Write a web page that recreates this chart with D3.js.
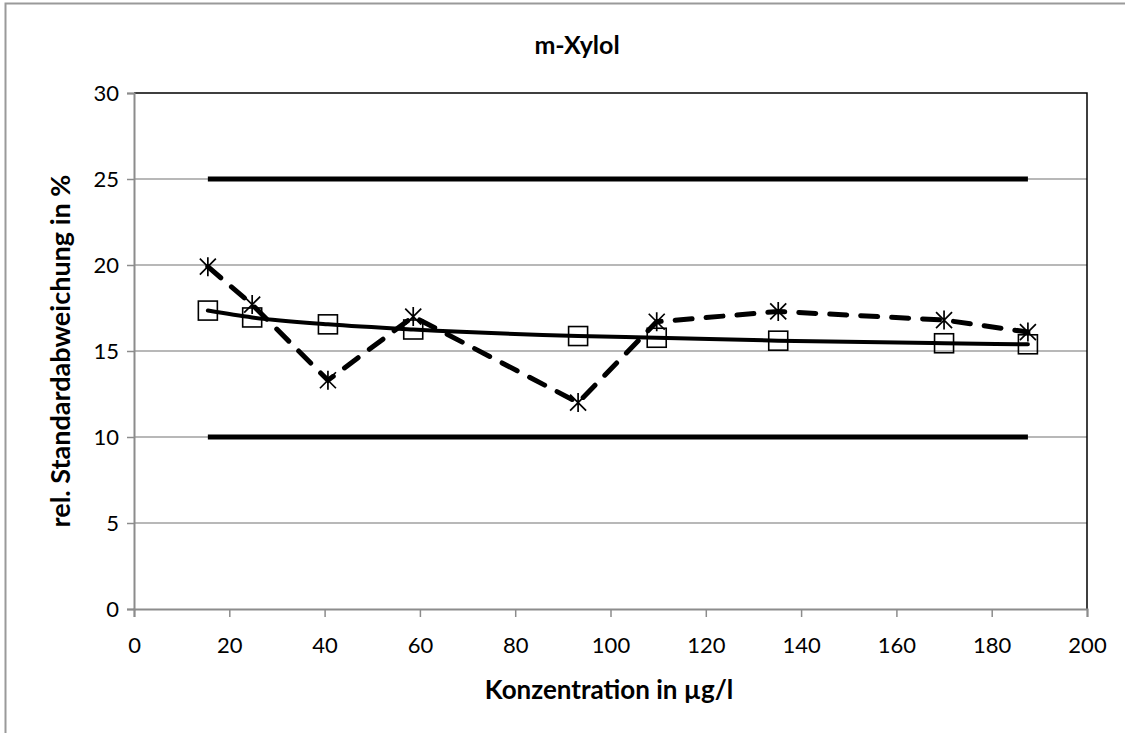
<!DOCTYPE html>
<html>
<head>
<meta charset="utf-8">
<script src="https://cdn.jsdelivr.net/npm/d3@7"></script>
<style>
  html, body { margin: 0; padding: 0; background: #fff; }
  svg { display: block; }
  text { font-family: Lato, "Open Sans", "Liberation Sans", sans-serif; fill: #000; }
</style>
</head>
<body>
<svg id="chart" width="1125" height="733"></svg>
<script>
// Concentration levels (µg/l)
const concentrations = [15.5, 24.8, 40.7, 58.6, 93.2, 109.7, 135.2, 170.0, 187.6];
// Measured relative standard deviation (%)
const measuredRSD = [19.9, 17.7, 13.3, 17.0, 12.0, 16.7, 17.3, 16.8, 16.1];
// Fitted relative standard deviation (%)
const fittedRSD = [17.35, 16.95, 16.55, 16.25, 15.87, 15.77, 15.6, 15.45, 15.39];
// Acceptance limits (%)
const limitValues = [25, 10];
const limitRange = [15.5, 187.6];
const xTicks = [0, 20, 40, 60, 80, 100, 120, 140, 160, 180, 200];
const yTicks = [0, 5, 10, 15, 20, 25, 30];

const svg = d3.select("#chart");
const W = 1125, H = 733;
const plotL = 134, plotR = 1087, plotT = 93, plotB = 609;

const x = d3.scaleLinear().domain([0, 200]).range([plotL, plotR]);
const y = d3.scaleLinear().domain([0, 30]).range([plotB, plotT]);

// outer chart frame (partially visible)
svg.append("path")
  .attr("d", `M5.5,${H} L5.5,3.5 L${W},3.5`)
  .attr("fill", "none").attr("stroke", "#9a9a9a").attr("stroke-width", 2);

// gridlines
svg.append("g").selectAll("line").data(yTicks.filter(d => d > 0 && d < 30)).join("line")
  .attr("x1", plotL).attr("x2", plotR)
  .attr("y1", d => y(d)).attr("y2", d => y(d))
  .attr("stroke", "#a0a0a0").attr("stroke-width", 1.5);

// plot frame top and right
svg.append("path")
  .attr("d", `M${plotL},${plotT} L${plotR},${plotT} L${plotR},${plotB}`)
  .attr("fill", "none").attr("stroke", "#000").attr("stroke-width", 1.5);

// axes
const yAxis = d3.axisLeft(y).tickValues(yTicks).tickSize(7).tickPadding(8).tickFormat(d3.format("d"));
const gy = svg.append("g").attr("transform", `translate(${plotL},0)`).call(yAxis);
const xAxis = d3.axisBottom(x).tickValues(xTicks).tickSize(8).tickPadding(20).tickFormat(d3.format("d"));
const gx = svg.append("g").attr("transform", `translate(0,${plotB})`).call(xAxis);
[gx, gy].forEach(g => {
  g.select(".domain").attr("stroke", "#8c8c8c").attr("stroke-width", 2);
  g.selectAll(".tick line").attr("stroke", "#8c8c8c").attr("stroke-width", 1.5);
  g.selectAll(".tick text").attr("font-size", 22)
    .attr("font-family", "Lato, 'Open Sans', sans-serif").attr("fill", "#000");
});

// acceptance limits
svg.append("g").selectAll("line").data(limitValues).join("line")
  .attr("x1", x(limitRange[0])).attr("x2", x(limitRange[1]))
  .attr("y1", d => y(d)).attr("y2", d => y(d))
  .attr("stroke", "#000").attr("stroke-width", 5);

const measured = concentrations.map((c, i) => [c, measuredRSD[i]]);
const fitted = concentrations.map((c, i) => [c, fittedRSD[i]]);

// measured series: dashed line
svg.append("path").datum(measured)
  .attr("d", d3.line().x(d => x(d[0])).y(d => y(d[1])))
  .attr("fill", "none").attr("stroke", "#000").attr("stroke-width", 5)
  .attr("stroke-dasharray", "17,14").attr("stroke-linecap", "round");

// fitted series: smooth solid line
svg.append("path").datum(fitted)
  .attr("d", d3.line().x(d => x(d[0])).y(d => y(d[1])).curve(d3.curveMonotoneX))
  .attr("fill", "none").attr("stroke", "#000").attr("stroke-width", 4)
  .attr("stroke-linecap", "round");

// square markers for fitted series
svg.append("g").selectAll("rect").data(fitted).join("rect")
  .attr("x", d => x(d[0]) - 9.5).attr("y", d => y(d[1]) - 9.5)
  .attr("width", 19).attr("height", 19)
  .attr("fill", "none").attr("stroke", "#000").attr("stroke-width", 1.6);

// star markers for measured series
const s = 9.5, dd = 8;
svg.append("g").selectAll("path").data(measured).join("path")
  .attr("transform", d => `translate(${x(d[0])},${y(d[1])})`)
  .attr("d", `M0,${-s}L0,${s}M${-dd},${-dd}L${dd},${dd}M${-dd},${dd}L${dd},${-dd}`)
  .attr("fill", "none").attr("stroke", "#000").attr("stroke-width", 1.7);

// titles
svg.append("text").attr("x", 577).attr("y", 54).attr("text-anchor", "middle")
  .attr("font-size", 25).attr("font-weight", "bold").text("m-Xylol");
svg.append("text").attr("x", 609).attr("y", 699).attr("text-anchor", "middle")
  .attr("font-size", 26).attr("font-weight", "bold").text("Konzentration in µg/l");
svg.append("text").attr("transform", `translate(70,${(plotT + plotB) / 2}) rotate(-90)`)
  .attr("text-anchor", "middle")
  .attr("font-size", 27).attr("font-weight", "bold").text("rel. Standardabweichung in %");
</script>
</body>
</html>
